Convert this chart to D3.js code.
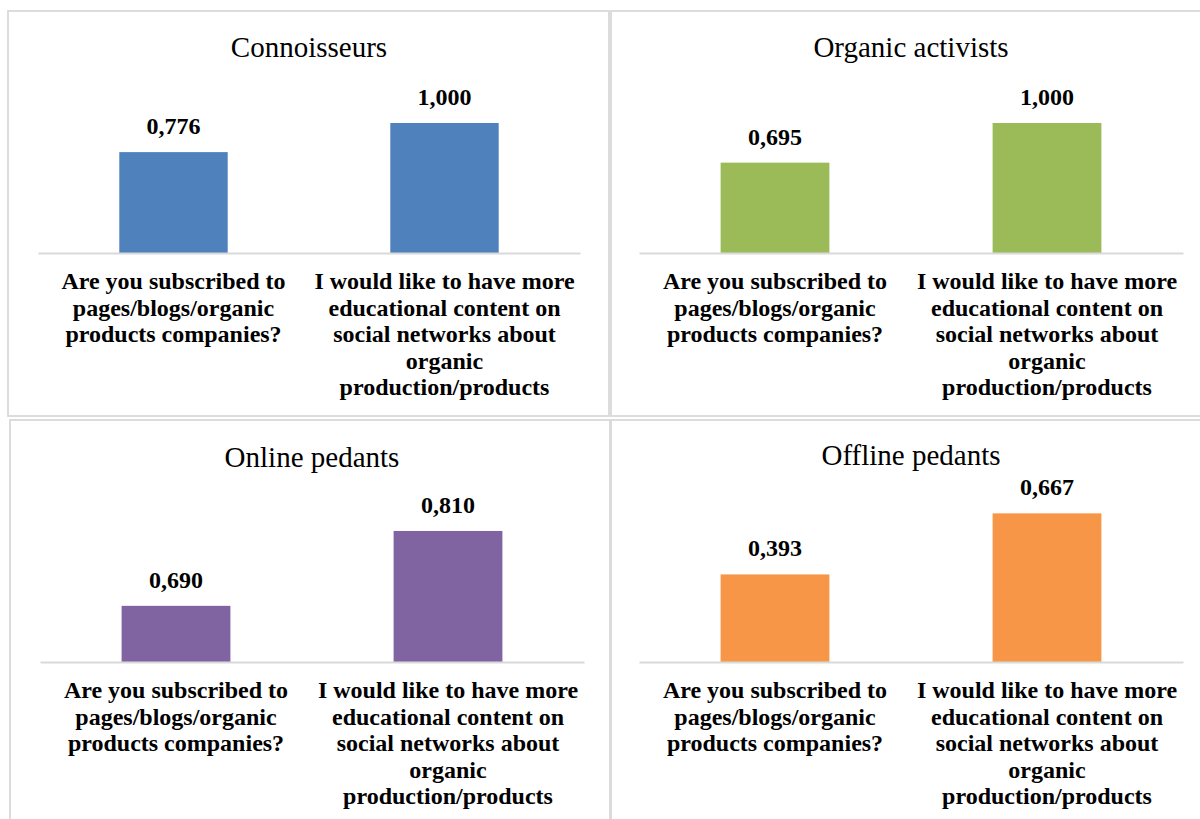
<!DOCTYPE html>
<html>
<head>
<meta charset="utf-8">
<script src="https://cdn.jsdelivr.net/npm/d3@7"></script>
<style>
  html, body { margin: 0; padding: 0; background: #ffffff; }
  svg { display: block; }
  text { font-family: "Liberation Serif", "Times New Roman", Times, serif; fill: #000; }
</style>
</head>
<body>
<svg id="chart" width="1200" height="819"></svg>
<script>
// Question categories shared by all four segments
const categories = [
  "Are you subscribed to pages/blogs/organic products companies?",
  "I would like to have more educational content on social networks about organic production/products"
];
// Category labels as wrapped lines
const categoryLines = [
  ["Are you subscribed to", "pages/blogs/organic", "products companies?"],
  ["I would like to have more", "educational content on", "social networks about", "organic", "production/products"]
];

// Segment names and their mean scores
const segments = ["Connoisseurs", "Organic activists", "Online pedants", "Offline pedants"];
const connoisseurs = [0.776, 1.000];
const organicActivists = [0.695, 1.000];
const onlinePedants = [0.690, 0.810];
const offlinePedants = [0.393, 0.667];
const segmentValues = [connoisseurs, organicActivists, onlinePedants, offlinePedants];

// Value axis extents per segment
const axisDomains = [[0, 1.2], [0, 1.2], [0.6, 0.85], [0, 0.7]];
const colors = ["#4F81BD", "#9BBB59", "#8064A2", "#F79646"];

// Panel layout: frame box, plot x-range and baseline
const panels = [
  { frame: [8, 11, 601, 405],  x: [38, 580],   base: 253, titleY: 57 },
  { frame: [611, 11, 600, 405], x: [639, 1183], base: 253, titleY: 57 },
  { frame: [10, 420, 600, 410], x: [40, 584],   base: 662, titleY: 467 },
  { frame: [611, 420, 600, 410], x: [639, 1183], base: 662, titleY: 465 }
];
const plotHeight = 156;

const svg = d3.select("#chart");
const fmt = v => d3.format(".3f")(v).replace(".", ",");

panels.forEach((p, i) => {
  const g = svg.append("g");
  const [fx, fy, fw, fh] = p.frame;

  g.append("rect")
    .attr("x", fx).attr("y", fy).attr("width", fw).attr("height", fh)
    .attr("fill", "#fff").attr("stroke", "#d9d9d9").attr("stroke-width", 1.8);

  const x = d3.scaleBand().domain(categories).range(p.x)
    .paddingInner(0.6).paddingOuter(0.3);
  const y = d3.scaleLinear().domain(axisDomains[i]).range([p.base, p.base - plotHeight]);

  const data = categories.map((c, k) => ({ c, v: segmentValues[i][k], lines: categoryLines[k] }));

  // title
  g.append("text")
    .attr("x", (p.x[0] + p.x[1]) / 2).attr("y", p.titleY)
    .attr("text-anchor", "middle").style("font-size", "29px")
    .text(segments[i]);

  // bars
  g.selectAll("rect.bar").data(data).join("rect")
    .attr("class", "bar")
    .attr("x", d => x(d.c)).attr("width", x.bandwidth())
    .attr("y", d => y(d.v)).attr("height", d => y(axisDomains[i][0]) - y(d.v))
    .attr("fill", colors[i]);

  // category axis
  const axis = g.append("g").attr("transform", `translate(0,${p.base})`)
    .call(d3.axisBottom(x).tickSize(0).tickFormat(""));
  axis.select(".domain").attr("stroke", "#d9d9d9").attr("stroke-width", 2);

  // wrapped category labels
  const lab = g.selectAll("text.cat").data(data).join("text")
    .attr("class", "cat")
    .attr("text-anchor", "middle")
    .style("font-size", "24px").style("font-weight", "bold")
    .attr("transform", d => `translate(${x(d.c) + x.bandwidth() / 2},${p.base + 36})`);
  lab.selectAll("tspan").data(d => d.lines).join("tspan")
    .attr("x", 0).attr("dy", (d, j) => j === 0 ? 0 : 26.5)
    .text(d => d);

  // value labels
  g.selectAll("text.val").data(data).join("text")
    .attr("class", "val")
    .attr("x", d => x(d.c) + x.bandwidth() / 2)
    .attr("y", d => y(d.v) - 18)
    .attr("text-anchor", "middle")
    .style("font-size", "24px").style("font-weight", "bold")
    .text(d => fmt(d.v));
});
</script>
</body>
</html>
